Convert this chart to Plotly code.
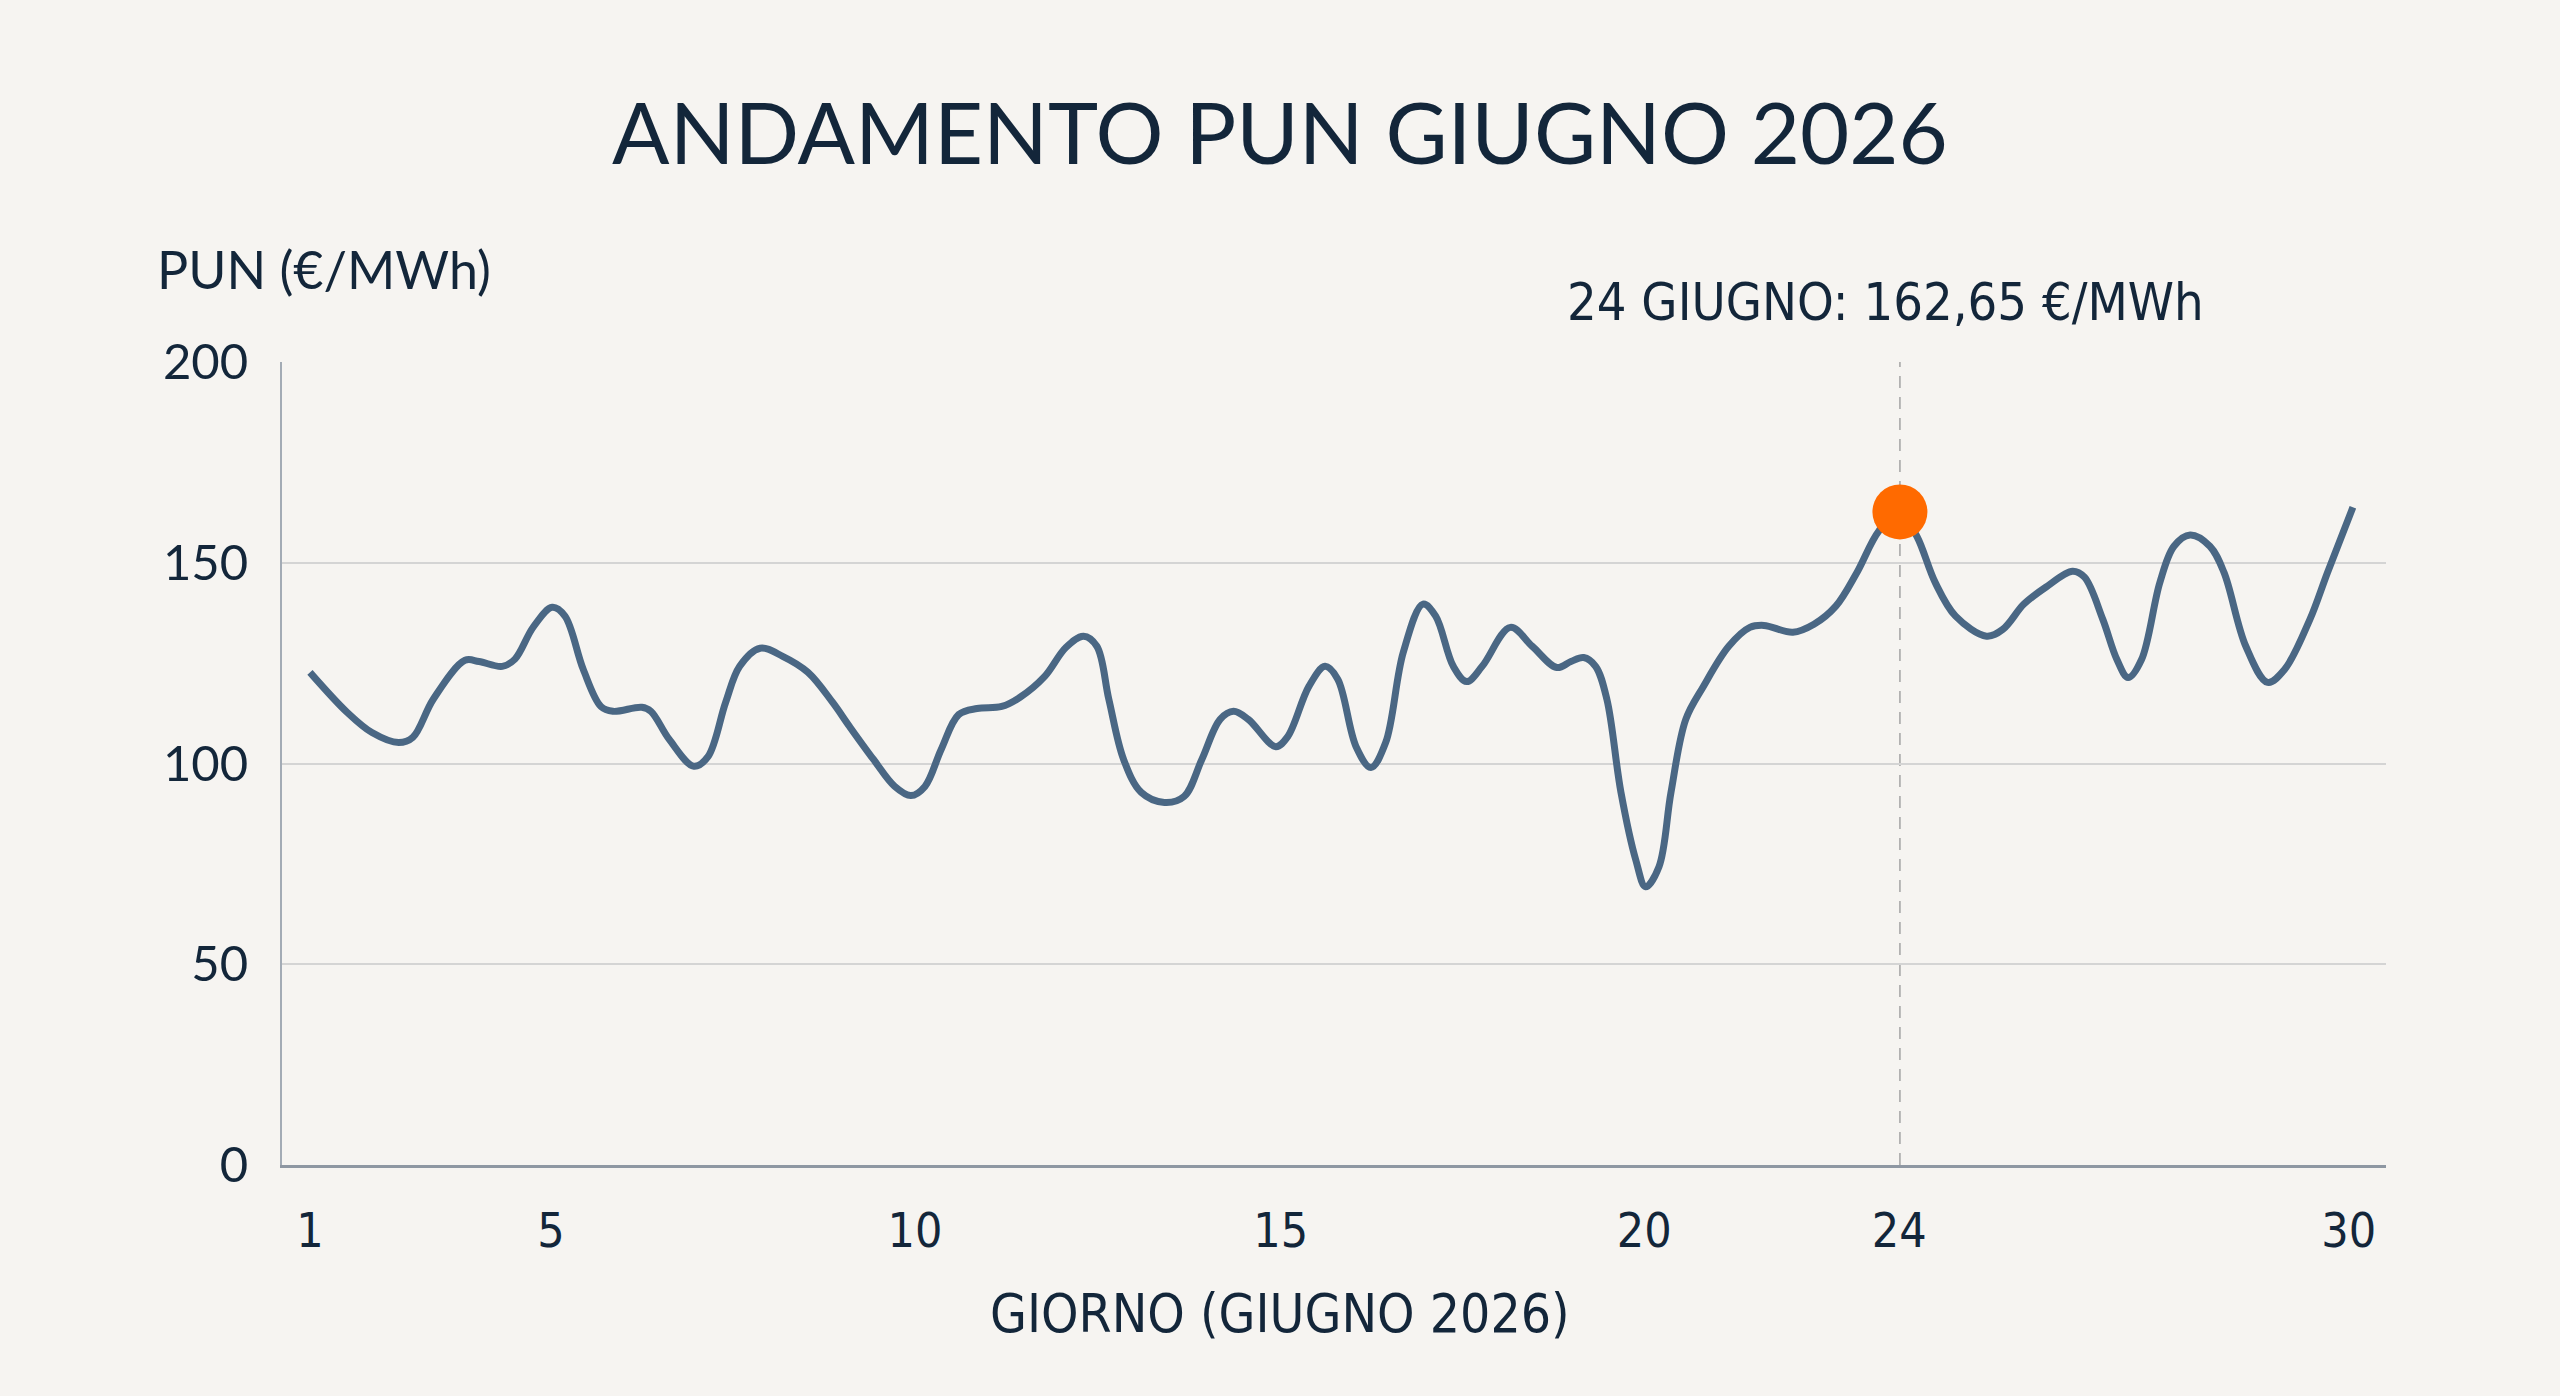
import plotly.graph_objects as go

# ---- data ----
DAY = [1.00, 1.53, 1.88, 2.26, 2.46, 2.75, 3.20, 3.40, 3.73, 3.91, 4.17, 4.44, 4.62, 4.88,
       5.13, 5.30, 5.71, 5.84, 6.10, 6.45, 6.65, 6.90, 7.10, 7.39, 7.71, 8.07, 8.42, 8.66,
       9.00, 9.30, 9.53, 9.73, 9.96, 10.21, 10.47, 10.82, 11.08, 11.43, 11.73, 11.98, 12.17,
       12.34, 12.55, 12.80, 13.13, 13.41, 13.66, 13.92, 14.11, 14.32, 14.71, 14.88, 15.18,
       15.41, 15.59, 15.85, 16.06, 16.27, 16.52, 16.80, 16.98, 17.23, 17.42, 17.64, 18.04,
       18.35, 18.70, 18.90, 19.08, 19.25, 19.41, 19.61, 19.82, 19.96, 20.15, 20.32, 20.53,
       20.78, 21.14, 21.44, 21.64, 22.05, 22.35, 22.66, 22.96, 23.27, 23.57, 23.81, 24.07,
       24.36, 24.80, 25.03, 25.33, 25.64, 26.02, 26.19, 26.45, 26.65, 26.81, 27.00, 27.26,
       27.46, 27.69, 27.97, 28.17, 28.48, 28.79, 29.03, 29.39, 29.64, 30.00]
PUN = [122.7, 112.7, 107.7, 105.2, 106.5, 116.0, 125.7, 125.4, 124.2, 126.0, 134.0, 138.9,
       136.7, 123.4, 114.2, 113.0, 114.0, 113.0, 106.0, 99.3, 101.7, 115.2, 124.2, 128.7,
       126.7, 122.7, 115.2, 109.2, 101.0, 94.3, 92.0, 94.3, 103.5, 112.2, 113.7, 114.2,
       116.5, 121.7, 128.9, 131.7, 129.2, 116.0, 101.0, 92.8, 90.3, 91.8, 101.0, 111.0,
       113.0, 111.0, 104.2, 106.7, 119.2, 124.2, 121.0, 104.2, 99.0, 105.2, 127.7, 139.7,
       136.7, 124.2, 120.4, 124.2, 133.9, 129.2, 123.9, 125.4, 126.4, 124.2, 116.0, 92.8,
       76.0, 69.3, 74.3, 92.8, 111.0, 119.2, 129.2, 133.9, 134.4, 132.7, 134.7, 139.2,
       147.6, 157.9, 162.65, 156.6, 145.1, 136.7, 131.7, 133.4, 139.7, 143.9, 147.9, 146.4,
       135.9, 125.9, 121.4, 125.9, 145.1, 154.1, 156.9, 154.1, 147.6, 129.2, 120.2, 123.4,
       135.9, 147.6, 163.8]

HIGHLIGHT_DAY = [23.57]
HIGHLIGHT_PUN = [162.65]

X_TICK_POS = [1.0, 4.42, 9.59, 14.78, 19.94, 23.56, 29.94]
X_TICK_TEXT = ["1", "5", "10", "15", "20", "24", "30"]
Y_TICKS = [0, 50, 100, 150, 200]

TITLE = "ANDAMENTO PUN GIUGNO 2026"
Y_TITLE = "PUN (€/MWh)"
X_TITLE = "GIORNO (GIUGNO 2026)"
HIGHLIGHT_TEXT = "24 GIUGNO: 162,65 €/MWh"

BG = "#F6F4F1"
TEXT = "#13263A"
LINE = "#4A6784"
ORANGE = "#FF6A00"
MAIN_FONT = "Lato, 'Open Sans', sans-serif"
NARROW_FONT = "'Liberation Sans Narrow', 'DejaVu Sans Condensed', 'Roboto Condensed', Roboto, sans-serif"

fig = go.Figure()
fig.add_trace(go.Scatter(
    x=DAY, y=PUN, mode="lines",
    line=dict(color=LINE, width=7, shape="spline", smoothing=1.0),
    hoverinfo="skip", showlegend=False))
fig.add_trace(go.Scatter(
    x=HIGHLIGHT_DAY, y=HIGHLIGHT_PUN, mode="markers",
    marker=dict(color=ORANGE, size=55, line=dict(width=0)),
    hoverinfo="skip", showlegend=False))

fig.add_shape(type="line", xref="x", yref="y",
              x0=HIGHLIGHT_DAY[0], x1=HIGHLIGHT_DAY[0], y0=0, y1=200,
              line=dict(color="#A3A3A3", width=1.5, dash="12px,9px"), layer="below")

fig.update_layout(
    width=2560, height=1396,
    margin=dict(l=282, r=174, t=362, b=231, autoexpand=False),
    paper_bgcolor=BG, plot_bgcolor=BG,
    title=dict(text=TITLE, x=0.5, xref="container", xanchor="center",
               y=1 - 134 / 1396, yref="container", yanchor="middle",
               font=dict(family=MAIN_FONT, size=85, color=TEXT)),
    xaxis=dict(range=[0.603, 30.47], tickmode="array", tickvals=X_TICK_POS,
               ticktext=X_TICK_TEXT, showgrid=False, zeroline=False,
               showline=True, linecolor="#8E97A2", linewidth=2.5,
               ticks="outside", ticklen=22, tickcolor="rgba(0,0,0,0)",
               tickfont=dict(family=NARROW_FONT, size=48, color=TEXT)),
    yaxis=dict(range=[0, 200], tickmode="array", tickvals=Y_TICKS,
               showgrid=True, gridcolor="#D4D4D4", gridwidth=1.5, zeroline=False,
               showline=True, linecolor="#A3ABB5", linewidth=2,
               ticks="outside", ticklen=22, tickcolor="rgba(0,0,0,0)",
               tickfont=dict(family=MAIN_FONT, size=49, color=TEXT)),
    annotations=[
        dict(text=Y_TITLE, xref="paper", yref="paper", x=(155 - 282) / 2104,
             y=(1165 - 269) / 803, xanchor="left", yanchor="middle", showarrow=False,
             font=dict(family=MAIN_FONT, size=52, color=TEXT)),
        dict(text=X_TITLE, xref="paper", yref="paper", x=(1280 - 282) / 2104,
             y=(1165 - 1313) / 803, xanchor="center", yanchor="middle", showarrow=False,
             font=dict(family=NARROW_FONT, size=53, color=TEXT)),
        dict(text=HIGHLIGHT_TEXT, xref="paper", yref="paper", x=(1885 - 282) / 2104,
             y=(1165 - 302) / 803, xanchor="center", yanchor="middle", showarrow=False,
             font=dict(family=NARROW_FONT, size=52, color=TEXT)),
    ],
)

fig.write_html("out.html")
